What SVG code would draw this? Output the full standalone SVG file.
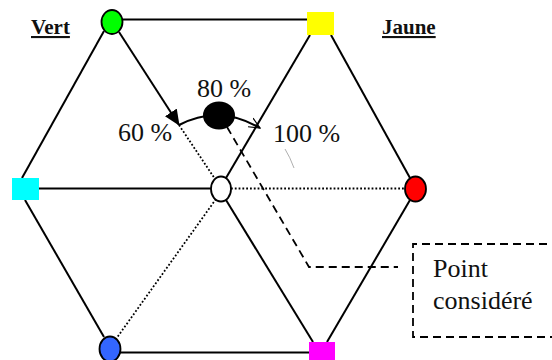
<svg xmlns="http://www.w3.org/2000/svg" width="552" height="360" viewBox="0 0 552 360">
<style>
.e{stroke:#000;stroke-width:2;fill:none}
.d{stroke:#000;stroke-width:1.8;fill:none;stroke-dasharray:1.8 2}
.ds{stroke:#000;stroke-width:1.8;fill:none;stroke-dasharray:8 5}
.c{stroke:#000;stroke-width:1.8}
text{fill:#111}
</style>
<defs>
<marker id="fa" markerWidth="16" markerHeight="14" refX="15" refY="7" orient="auto" markerUnits="userSpaceOnUse">
<path d="M0,0 L16,7 L0,14 Z" fill="#000"/>
</marker>
<marker id="oa" markerWidth="12" markerHeight="12" refX="11" refY="6" orient="auto" markerUnits="userSpaceOnUse">
<path d="M0,1 L11,6 L0,11" fill="none" stroke="#000" stroke-width="1.2"/>
</marker>
</defs>
<rect width="552" height="360" fill="#fff"/>
<g id="connectors">
<line class="e" x1="112" y1="19.5" x2="320" y2="19.5"/>
<line class="e" x1="331" y1="35" x2="410" y2="178"/>
<line class="e" x1="410" y1="200" x2="327" y2="342"/>
<line class="e" x1="110" y1="352.5" x2="312" y2="352.5"/>
<line class="e" x1="104" y1="337" x2="25" y2="200"/>
<line class="e" x1="22" y1="178" x2="104" y2="31"/>
<line class="e" x1="39" y1="188.5" x2="211" y2="188.5"/>
<line class="e" x1="310" y1="35" x2="226" y2="178"/>
<line class="e" x1="226" y1="200" x2="313" y2="342"/>
<line class="e" x1="119" y1="32" x2="179" y2="125" marker-end="url(#fa)"/>
<line class="d" x1="179" y1="125" x2="215" y2="179"/>
<line class="d" x1="231" y1="188.5" x2="405" y2="188.5"/>
<line class="d" x1="216" y1="199" x2="116" y2="339"/>
<path class="e" d="M179,125 Q219,104 260,128" marker-end="url(#oa)"/>
<path class="ds" d="M227,127 L309,267 L398,267"/>
<path d="M285,149 Q290,157 294,168" stroke="#999" stroke-width="0.8" fill="none"/>
</g>
<g id="vert">
<ellipse cx="112" cy="22" rx="10.5" ry="12" fill="#00ff00" class="c"/>
</g>
<g id="jaune-node">
<rect x="307" y="12" width="27" height="23" fill="#ffff00"/>
</g>
<g id="rouge">
<ellipse cx="415.5" cy="189" rx="10.5" ry="12.5" fill="#ff0000" class="c"/>
</g>
<g id="magenta">
<rect x="309" y="342" width="26" height="20" fill="#ff00ff"/>
</g>
<g id="bleu">
<ellipse cx="110" cy="349" rx="10.5" ry="12.5" fill="#3366ff" class="c"/>
</g>
<g id="cyan">
<rect x="12" y="178" width="27" height="22" fill="#00ffff"/>
</g>
<g id="blanc">
<ellipse cx="221" cy="189" rx="10" ry="12.5" fill="#fff" class="c"/>
</g>
<g id="point">
<ellipse cx="219" cy="115.5" rx="16" ry="14" fill="#000"/>
</g>
<g id="labels" font-family="'Liberation Serif', 'DejaVu Serif', serif">
<text x="31" y="34" font-size="21" font-weight="bold" text-decoration="underline">Vert</text>
<text x="382" y="34" font-size="21" font-weight="bold" text-decoration="underline">Jaune</text>
<text x="197" y="96.5" font-size="26">80 %</text>
<text x="118" y="141" font-size="26">60 %</text>
<text x="273" y="141.5" font-size="26">100 %</text>
</g>
<g id="callout">
<path class="ds" d="M560,244 L413,244 L413,337 L560,337"/>
<text x="433" y="277" font-size="26" font-family="'Liberation Serif', 'DejaVu Serif', serif">Point</text>
<text x="433" y="309" font-size="26" font-family="'Liberation Serif', 'DejaVu Serif', serif">considéré</text>
</g>
</svg>
